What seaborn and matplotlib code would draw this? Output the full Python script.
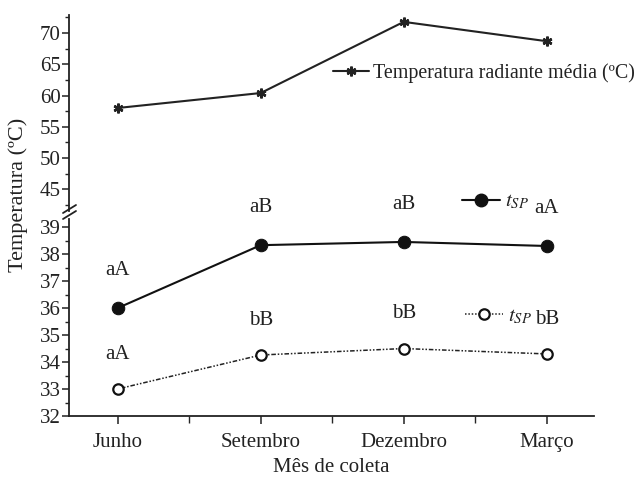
import matplotlib
matplotlib.use('Agg')
import matplotlib.pyplot as plt
import seaborn as sns
import pandas as pd
from matplotlib.lines import Line2D
from matplotlib.ticker import MultipleLocator, FixedLocator

# ---- data ----
months = ['Junho', 'Setembro', 'Dezembro', 'Março']
trm = [58.0, 60.4, 71.8, 68.7]          # Temperatura radiante média (ºC)
tsp_filled = [36.0, 38.33, 38.45, 38.3]  # t_SP (filled)
tsp_open = [33.0, 34.26, 34.5, 34.3]     # t_SP (open)
letters_filled = ['aA', 'aB', 'aB', 'aA']
letters_open = ['aA', 'bB', 'bB', 'bB']
upper_ticks = [45, 50, 55, 60, 65, 70]
lower_ticks = [32, 33, 34, 35, 36, 37, 38, 39]

sns.set_theme(style='ticks')
plt.rcParams['font.family'] = ['Liberation Serif', 'DejaVu Serif']
plt.rcParams['mathtext.fontset'] = 'stix'

FS = 15
INK = '#222222'
W, H = 642, 483
fig = plt.figure(figsize=(W / 100, H / 100), dpi=100)

left, right = 69 / W, 594 / W
ax_up = fig.add_axes([left, 1 - 211 / H, right - left, (211 - 15) / H])
ax_lo = fig.add_axes([left, 1 - 416 / H, right - left, (416 - 219) / H])

df = pd.DataFrame({'month': months, 'trm': trm, 'a': tsp_filled, 'b': tsp_open})

sns.lineplot(data=df, x='month', y='trm', ax=ax_up, color=INK, lw=1.5,
             marker=(6, 2, 0), markersize=7, markeredgewidth=1.8,
             markeredgecolor=INK, sort=False)
sns.lineplot(data=df, x='month', y='a', ax=ax_lo, color='#111111', lw=1.5,
             marker='o', markersize=9, markeredgecolor='#111111', sort=False)
sns.lineplot(data=df, x='month', y='b', ax=ax_lo, color=INK, lw=1.1,
             linestyle=(0, (3, 1.2, 1, 1.2, 1, 1.2)), marker='o', markersize=7.5,
             markerfacecolor='white', markeredgecolor='#111111',
             markeredgewidth=1.6, sort=False)

xlim = (-0.34, 3.33)
for ax in (ax_up, ax_lo):
    ax.set_xlim(*xlim)
    ax.set_xlabel('')
    ax.set_ylabel('')
    ax.tick_params(axis='y', direction='out', length=5, width=1.1, labelsize=FS,
                   pad=1, colors=INK, labelcolor=INK)
    ax.tick_params(axis='y', which='minor', direction='out', length=3, width=1.0,
                   colors=INK)
    ax.spines['left'].set_linewidth(1.3)
    ax.spines['bottom'].set_linewidth(1.3)
    ax.spines['left'].set_color(INK)
    ax.spines['bottom'].set_color(INK)
    ax.patch.set_alpha(0)

sns.despine(ax=ax_up, bottom=True)
sns.despine(ax=ax_lo)

ax_up.set_ylim(41.5, 72.9)
ax_up.yaxis.set_major_locator(FixedLocator(upper_ticks))
ax_up.yaxis.set_minor_locator(MultipleLocator(2.5))
ax_up.set_xticks([])

ax_lo.set_ylim(32, 39.3)
ax_lo.yaxis.set_major_locator(FixedLocator(lower_ticks))
ax_lo.yaxis.set_minor_locator(MultipleLocator(0.5))
ax_lo.set_xticks(range(len(months)))
ax_lo.set_xticklabels(months)
ax_lo.xaxis.set_minor_locator(FixedLocator([0.5, 1.5, 2.5]))
ax_lo.tick_params(axis='x', direction='out', length=6, width=1.1, labelsize=FS,
                  pad=6, colors=INK, labelcolor=INK)
ax_lo.tick_params(axis='x', which='minor', direction='out', length=5, width=1.0)

# significance letters
for i, (v, t) in enumerate(zip(tsp_filled, letters_filled)):
    ax_lo.annotate(t, (i, v), xytext=(0, 27), textcoords='offset points',
                   ha='center', va='center', fontsize=FS, color=INK,
                   annotation_clip=False)
for i, (v, t) in enumerate(zip(tsp_open, letters_open)):
    ax_lo.annotate(t, (i, v), xytext=(0, 25), textcoords='offset points',
                   ha='center', va='center', fontsize=FS, color=INK,
                   annotation_clip=False)

# axis break marks
for y0 in (208, 214):
    fig.add_artist(Line2D([63 / W, 76 / W], [1 - (y0 + 5) / H, 1 - (y0 - 3) / H],
                          color=INK, lw=1.3))

# legends (inline labels)
h_trm = Line2D([], [], color=INK, lw=1.5, marker=(6, 2, 0), markersize=7,
               markeredgewidth=1.8)
h_a = Line2D([], [], color='#111111', lw=1.5, marker='o', markersize=9)
h_b = Line2D([], [], color=INK, lw=1.1, linestyle=(0, (1, 1.2)), marker='o',
             markersize=7.5, markerfacecolor='white', markeredgecolor='#111111',
             markeredgewidth=1.6)
common = dict(frameon=False, borderpad=0, borderaxespad=0, loc='center left')
l1 = fig.legend([h_trm], ['Temperatura radiante média (ºC)'],
                bbox_to_anchor=(333 / W, 1 - 73 / H), fontsize=14.4,
                handlelength=1.8, handletextpad=0.2, **common)
l2 = fig.legend([h_a], [r'$t_{SP}$'], bbox_to_anchor=(462 / W, 1 - 202 / H),
                fontsize=FS, handlelength=1.8, handletextpad=0.25, **common)
l3 = fig.legend([h_b], [r'$t_{SP}$'], bbox_to_anchor=(465 / W, 1 - 317 / H),
                fontsize=FS, handlelength=1.8, handletextpad=0.25, **common)
for lg in (l1, l2, l3):
    for t in lg.get_texts():
        t.set_color(INK)

fig.text(18 / W, 1 - 195 / H, 'Temperatura (ºC)', rotation=90, ha='center',
         va='center', fontsize=16, color=INK)
fig.text(331 / W, 1 - 467 / H, 'Mês de coleta', ha='center', va='center',
         fontsize=FS, color=INK)

fig.savefig('out.png', dpi=100)
